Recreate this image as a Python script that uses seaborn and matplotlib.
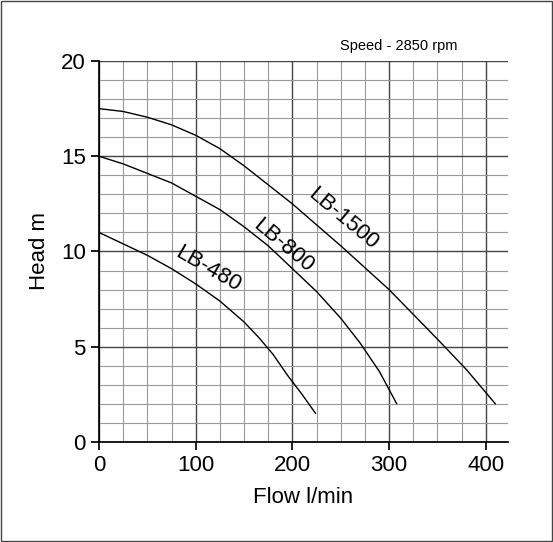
import matplotlib
matplotlib.use("Agg")
import matplotlib.pyplot as plt
import seaborn as sns
import pandas as pd
from matplotlib.ticker import MultipleLocator

sns.set_theme(style="white")
plt.rcParams['font.family'] = ['Liberation Sans', 'DejaVu Sans']
plt.rcParams['text.color'] = 'black'
plt.rcParams['axes.labelcolor'] = 'black'
plt.rcParams['xtick.color'] = 'black'
plt.rcParams['ytick.color'] = 'black'

flow_1500 = [0, 25, 50, 75, 100, 125, 150, 175, 200, 250, 300, 350, 380, 410]
head_1500 = [17.5, 17.35, 17.05, 16.65, 16.1, 15.4, 14.5, 13.5, 12.5, 10.3, 8.0, 5.4, 3.8, 2.0]
flow_800 = [0, 25, 50, 75, 100, 125, 150, 175, 200, 225, 250, 270, 290, 308]
head_800 = [15.0, 14.6, 14.1, 13.6, 12.9, 12.2, 11.3, 10.3, 9.1, 7.9, 6.5, 5.2, 3.7, 2.0]
flow_480 = [0, 25, 50, 75, 100, 125, 150, 165, 180, 195, 210, 224]
head_480 = [11.0, 10.4, 9.8, 9.1, 8.3, 7.4, 6.3, 5.5, 4.6, 3.5, 2.5, 1.5]
labels = ["LB-1500", "LB-800", "LB-480"]

df = pd.concat([
    pd.DataFrame({"flow": flow_1500, "head": head_1500, "pump": labels[0]}),
    pd.DataFrame({"flow": flow_800, "head": head_800, "pump": labels[1]}),
    pd.DataFrame({"flow": flow_480, "head": head_480, "pump": labels[2]}),
])

fig = plt.figure(figsize=(5.53, 5.42), dpi=100)
ax = fig.add_axes([99/553, 100/542, (508-99)/553, (442-61)/542])
sns.lineplot(data=df, x="flow", y="head", units="pump", estimator=None,
             color="black", lw=1, ax=ax, sort=False, legend=False)
ax.set_xlim(0, 423)
ax.set_ylim(0, 20)
ax.xaxis.set_major_locator(MultipleLocator(100))
ax.xaxis.set_minor_locator(MultipleLocator(25))
ax.yaxis.set_major_locator(MultipleLocator(5))
ax.yaxis.set_minor_locator(MultipleLocator(1))
ax.grid(which="major", color="#444444", lw=1)
ax.grid(which="minor", color="#999999", lw=0.8)
for s in ["top", "right"]:
    ax.spines[s].set_visible(False)
for s in ["left", "bottom"]:
    ax.spines[s].set_color("black")
ax.tick_params(which="major", direction="out", length=6, bottom=True, left=True,
               labelsize=16, color="black")
ax.set_xlabel("Flow l/min", fontsize=16, labelpad=8)
ax.set_ylabel("Head m", fontsize=16, labelpad=8)
ax.text(252, 11.7, "LB-1500", rotation=-40, fontsize=16, ha="center", va="center")
ax.text(190, 10.3, "LB-800", rotation=-40, fontsize=16, ha="center", va="center")
ax.text(113, 9.05, "LB-480", rotation=-30, fontsize=16, ha="center", va="center")
fig.text(340/553, 1 - 50/542, "Speed - 2850 rpm", fontsize=10.5)
fig.patches.append(plt.Rectangle((0.002, 0.002), 0.996, 0.996, transform=fig.transFigure,
                                 fill=False, edgecolor="#444444", lw=1))
fig.savefig("out.png", dpi=100)
